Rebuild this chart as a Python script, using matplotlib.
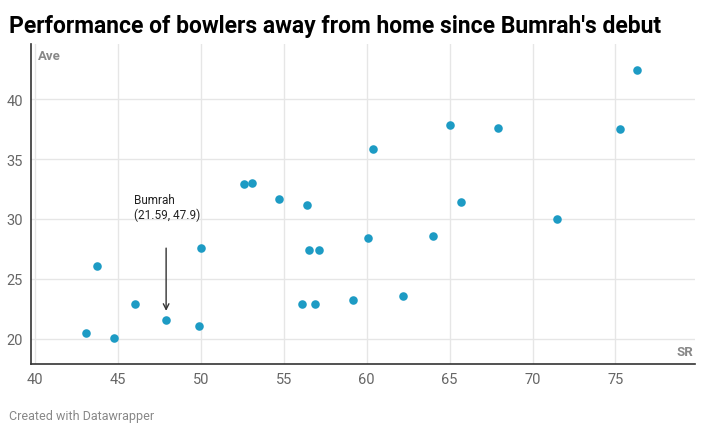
import matplotlib
matplotlib.use("Agg")
import matplotlib.pyplot as plt

sr = [43.07,44.76,43.73,46.0,47.9,49.88,50.0,52.6,53.1,54.7,56.4,56.5,57.1,56.1,56.9,59.2,60.1,60.4,62.2,64.0,65.0,65.7,67.9,71.5,75.3,76.3]
ave = [20.5,20.1,26.1,22.9,21.59,21.1,27.6,32.9,33.0,31.7,31.2,27.4,27.4,22.9,22.9,23.2,28.4,35.8,23.6,28.6,37.8,31.4,37.6,30.0,37.5,42.4]
xticks = [40,45,50,55,60,65,70,75]
yticks = [20,25,30,35,40]

plt.rcParams["font.family"] = "Roboto"
fig = plt.figure(figsize=(7.15,4.31), dpi=100)
ax = fig.add_axes([31/715, 1-365/431, 664/715, (365-45)/431])
ax.scatter(sr, ave, s=38, color="#1d9bc4", zorder=3, linewidths=0)
ax.set_xlim(39.75, 79.8)
ax.set_ylim(17.9, 44.6)
ax.set_xticks(xticks); ax.set_yticks(yticks)
ax.grid(True, color="#e6e6e6", lw=1)
ax.set_axisbelow(True)
for s in ["top","right"]:
    ax.spines[s].set_visible(False)
for s in ["left","bottom"]:
    ax.spines[s].set_color("#333333"); ax.spines[s].set_linewidth(1.2)
ax.tick_params(length=0, labelsize=10.5, colors="#666666", pad=6)
ax.text(0.01, 0.985, "Ave", transform=ax.transAxes, fontsize=9.5, fontweight="bold", color="#888888", va="top")
ax.text(0.997, 0.02, "SR", transform=ax.transAxes, fontsize=9.5, fontweight="bold", color="#888888", ha="right", va="bottom")
ax.annotate("", xy=(47.9, 22.1), xytext=(47.9, 27.8),
            arrowprops=dict(arrowstyle="->", color="#333333", lw=1))
ax.text(45.95, 29.8, "Bumrah\n(21.59, 47.9)", fontsize=8.5, color="#222222", va="bottom", linespacing=1.2)
fig.text(0.013, 0.965, "Performance of bowlers away from home since Bumrah's debut",
         fontsize=16.5, fontweight="bold", va="top")
fig.text(0.013, 0.025, "Created with Datawrapper", fontsize=9, color="#888888")
fig.savefig("out.png", dpi=100)
